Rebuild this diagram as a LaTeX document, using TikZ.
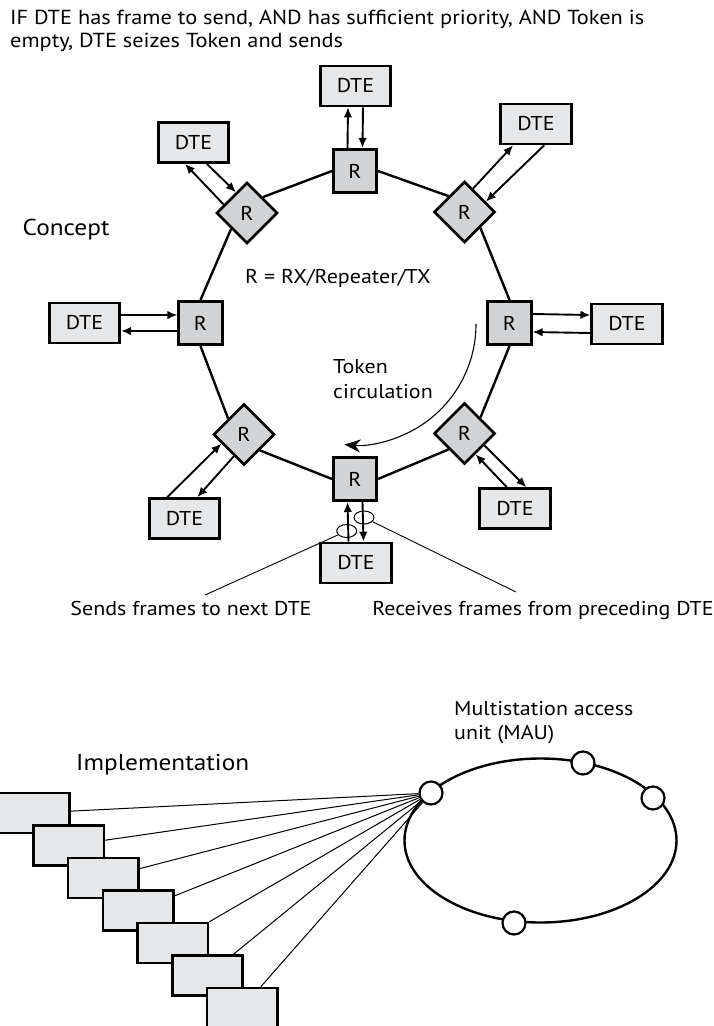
\documentclass[tikz,border=0pt]{standalone}
\usepackage{fontspec}
\setmainfont[FakeStretch=1.1]{PT Sans}
\usetikzlibrary{arrows.meta,shapes.geometric}
\definecolor{dtefill}{HTML}{E6E7E8}
\definecolor{rfill}{HTML}{D1D3D4}
\begin{document}
\begin{tikzpicture}[x=1pt,y=-1pt,
  txt/.style={font=\fontsize{20}{24}\selectfont, inner sep=0pt},
  bigtxt/.style={font=\fontsize{23}{28}\selectfont, inner sep=0pt},
  dte/.style={draw, line width=2.6pt, fill=dtefill, minimum width=70.5pt, minimum height=40pt, inner sep=0pt, font=\fontsize{20}{24}\selectfont},
  rsq/.style={draw, line width=2.6pt, fill=rfill, minimum width=43.5pt, minimum height=43.5pt, inner sep=0pt, font=\fontsize{20}{24}\selectfont},
  rdia/.style={diamond, draw, line width=2.6pt, fill=rfill, minimum width=61pt, minimum height=61pt, inner sep=0pt, font=\fontsize{20}{24}\selectfont},
  ring/.style={line width=2.4pt},
  arr/.style={line width=1.9pt, -{Latex[length=10pt,width=8.5pt]}},
  lead/.style={line width=0.9pt},
  oval/.style={draw, ellipse, line width=1pt, minimum width=20pt, minimum height=13pt, inner sep=0pt},
  impbox/.style={draw, line width=2.6pt, fill=dtefill, minimum width=70.5pt, minimum height=40pt, inner sep=0pt},
  port/.style={draw, circle, line width=2.2pt, fill=white, minimum size=23pt, inner sep=0pt},
  feed/.style={line width=1pt},
]
\useasboundingbox (0,0) rectangle (714,1026);
\clip (0,0) rectangle (714,1026);

% title
\node[txt, anchor=base west, font=\fontsize{20.3}{24}\selectfont] (t1) at (10,24.5) {IF DTE has frame to send, AND has sufficient priority, AND Token is};
\node[txt, anchor=base west, font=\fontsize{20.3}{24}\selectfont] (t2) at (10,47.5) {empty, DTE seizes Token and sends};

% concept ring nodes
\node[rsq] (rT) at (355,171) {R};
\node[dte] (dT) at (355.5,86) {DTE};
\node[rdia] (rUL) at (247,213) {R};
\node[dte] (dUL) at (193.5,142.5) {DTE};
\node[rdia] (rUR) at (464.5,212) {R};
\node[dte] (dUR) at (536,124) {DTE};
\node[rsq] (rL) at (200.5,323) {R};
\node[dte] (dL) at (84.5,323) {DTE};
\node[rsq] (rR) at (509.5,323) {R};
\node[dte] (dR) at (627,324) {DTE};
\node[rdia] (rLL) at (244,434.5) {R};
\node[dte] (dLL) at (184.5,518.5) {DTE};
\node[rdia] (rLR) at (464.5,433.5) {R};
\node[dte] (dLR) at (515,508.5) {DTE};
\node[rsq] (rB) at (355,479) {R};
\node[dte] (dB) at (356,563) {DTE};

% ring segments
\draw[ring] (rT.west) -- (rUL.north east);
\draw[ring] (rUL.south west) -- (rL.north);
\draw[ring] (rL.south) -- (rLL.north west);
\draw[ring] (rLL.south east) -- (rB.west);
\draw[ring] (rB.east) -- (rLR.south west);
\draw[ring] (rLR.north east) -- (rR.south);
\draw[ring] (rR.north) -- (rUR.south east);
\draw[ring] (rUR.north west) -- (rT.east);

% DTE <-> R arrows
\draw[arr] ([xshift=-7.5pt]rT.north) -- ([xshift=-7.5pt]dT.south);
\draw[arr] ([xshift=7.5pt]dT.south) -- ([xshift=7.5pt]rT.north);
\draw[arr] (rUL.160) -- (dUL.248);
\draw[arr] (dUL.302) -- (rUL.118);
\draw[arr] (rUR.70) -- (dUR.223);
\draw[arr] (dUR.291) -- (rUR.26);
\draw[arr] ([yshift=8pt]dL.east) -- ([yshift=8pt]rL.west);
\draw[arr] ([yshift=-8pt]rL.west) -- ([yshift=-8pt]dL.east);
\draw[arr] ([yshift=9pt]rR.east) -- ([yshift=9pt]dR.west);
\draw[arr] ([yshift=-9pt]dR.west) -- ([yshift=-9pt]rR.east);
\draw[arr] (dLL.129) -- (rLL.202);
\draw[arr] (rLL.245) -- (dLL.59);
\draw[arr] (dLR.111) -- (rLR.298);
\draw[arr] (rLR.329) -- (dLR.62);
\draw[arr] ([xshift=-7.5pt]dB.north) -- ([xshift=-7.5pt]rB.south);
\draw[arr] ([xshift=7.5pt]rB.south) -- ([xshift=7.5pt]dB.north);

% labels in concept
\node[bigtxt, anchor=base west] (concept) at (22.5,235) {Concept};
\node[txt, anchor=base west] (rdef) at (245,283.5) {R = RX/Repeater/TX};
\node[txt, anchor=base west] (tok1) at (333,373.3) {Token};
\node[txt, anchor=base west] (tok2) at (333,398) {circulation};

% token circulation arrow
\coordinate (tokstart) at (476,324);
\draw[line width=1.1pt, -{Stealth[length=16pt,width=13pt,inset=5pt]}] (tokstart) arc[start angle=0, end angle=95, radius=121];

% ovals and leaders
\node[oval] (eS) at (346.7,531) {};
\node[oval] (eR) at (364,517.5) {};
\coordinate (lS) at (205,595);
\coordinate (lR) at (516,592);
\draw[lead] (eS) -- (lS);
\draw[lead] (eR) -- (lR);
\node[txt, anchor=base] (sends) at (191,615) {Sends frames to next DTE};
\node[txt, anchor=base] (recv) at (543,615) {Receives frames from preceding DTE};

% implementation
\node[bigtxt, anchor=base west] (impl) at (76,770.7) {Implementation};
\node[txt, anchor=base west] (mau1) at (454,715) {Multistation access};
\node[txt, anchor=base west] (mau2) at (454,739) {unit (MAU)};

\node[draw, ellipse, line width=2.4pt, minimum width=272pt, minimum height=164pt, inner sep=0pt] (mau) at (540.5,840.5) {};
\node[port] (p1) at (431,793) {};
\node[port] (p2) at (583,763) {};
\node[port] (p3) at (653,798) {};
\node[port] (p4) at (514,923) {};

\foreach \i in {0,...,6}{
  \node[impbox] (b\i) at (34+34.7*\i, 813+32.5*\i) {};
  \draw[feed] (b\i) -- (p1);
}
\end{tikzpicture}
\end{document}
